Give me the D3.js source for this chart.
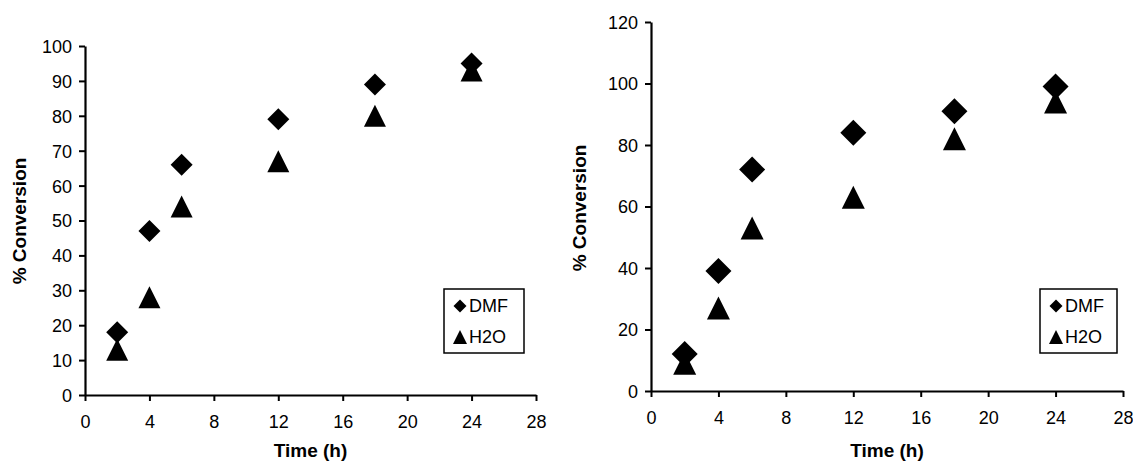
<!DOCTYPE html>
<html lang="en">
<head>
<meta charset="UTF-8">
<title>% Conversion vs time</title>
<script src="https://cdnjs.cloudflare.com/ajax/libs/d3/7.8.5/d3.min.js"></script>
<style>
  body { margin: 0; background: #fff; }
  svg { display: block; font-family: "Liberation Sans", Arial, sans-serif; }
  .tick text { font-size: 18px; fill: #000; }
  .axis-title { font-size: 19px; font-weight: bold; }
</style>
</head>
<body>
<script>
// data
const times = [2, 4, 6, 12, 18, 24];
const dmfLeft = [18, 47, 66, 79, 89, 95];
const h2oLeft = [13, 28, 54, 67, 80, 93];
const dmfRight = [12, 39, 72, 84, 91, 99];
const h2oRight = [9, 27, 53, 63, 82, 94];
const xTicks = [0, 4, 8, 12, 16, 20, 24, 28];
const yTicksLeft = [0, 10, 20, 30, 40, 50, 60, 70, 80, 90, 100];
const yTicksRight = [0, 20, 40, 60, 80, 100, 120];
const seriesNames = ["DMF", "H2O"];

const W = 1133, H = 466;
const svg = d3.select("body").append("svg").attr("width", W).attr("height", H);

// excel-style markers: diamond = square turned 45deg, triangle centred on its box
function diamond(d) {
  return { draw(ctx) { const r = d / 2; ctx.moveTo(0, -r); ctx.lineTo(r, 0); ctx.lineTo(0, r); ctx.lineTo(-r, 0); ctx.closePath(); } };
}
function triangle(w, h) {
  return { draw(ctx) { ctx.moveTo(0, -h / 2); ctx.lineTo(w / 2, h / 2); ctx.lineTo(-w / 2, h / 2); ctx.closePath(); } };
}

function panel(p) {
  const x = d3.scaleLinear().domain([0, 28]).range([p.x0, p.x1]);
  const y = d3.scaleLinear().domain([0, p.yMax]).range([p.y0, p.y1]);
  const g = svg.append("g");

  const xAxis = g.append("g").attr("transform", `translate(0,${p.y0})`)
    .call(d3.axisBottom(x).tickValues(xTicks).tickSize(6).tickPadding(14).tickSizeOuter(0));
  const yAxis = g.append("g").attr("transform", `translate(${p.x0},0)`)
    .call(d3.axisLeft(y).tickValues(p.yTicks).tickSize(6).tickPadding(7).tickSizeOuter(0));
  [xAxis, yAxis].forEach(a => {
    a.selectAll("path, line").attr("stroke", "#000").attr("stroke-width", 2);
    a.select(".domain").attr("stroke-width", 2.2);
  });
  yAxis.selectAll(".tick text").attr("dy", "0.36em");

  g.append("text").attr("class", "axis-title")
    .attr("x", (p.x0 + p.x1) / 2).attr("y", 457).attr("text-anchor", "middle")
    .text("Time (h)");
  g.append("text").attr("class", "axis-title")
    .attr("transform", `translate(${p.yTitleX},${p.yTitleY}) rotate(-90)`)
    .attr("text-anchor", "middle").text("% Conversion");

  const dia = d3.symbol().type(diamond(p.dSize));
  const tri = d3.symbol().type(triangle(p.tSize, p.tSize));

  g.selectAll(".h2o").data(times).join("path").attr("class", "h2o")
    .attr("transform", (t, i) => `translate(${x(t)},${y(p.h2o[i])})`)
    .attr("d", tri).attr("fill", "#000");
  g.selectAll(".dmf").data(times).join("path").attr("class", "dmf")
    .attr("transform", (t, i) => `translate(${x(t)},${y(p.dmf[i])})`)
    .attr("d", dia).attr("fill", "#000");

  // legend
  const lg = g.append("g").attr("transform", `translate(${p.lx},${p.ly})`);
  lg.append("rect").attr("width", p.lw).attr("height", 64)
    .attr("fill", "#fff").attr("stroke", "#000").attr("stroke-width", 1.5);
  const legMarks = [d3.symbol().type(diamond(13))(), d3.symbol().type(triangle(14, 14))()];
  seriesNames.forEach((name, i) => {
    const cy = 17 + i * 31;
    lg.append("path").attr("d", legMarks[i]).attr("transform", `translate(16,${cy})`).attr("fill", "#000");
    lg.append("text").attr("x", 25).attr("y", cy).attr("dy", "0.36em")
      .style("font-size", "18px").text(name);
  });
}

panel({ x0: 85, x1: 536, y0: 395, y1: 46, yMax: 100, yTicks: yTicksLeft,
  dmf: dmfLeft, h2o: h2oLeft, dSize: 22, tSize: 22,
  yTitleX: 26, yTitleY: 221, lx: 444, ly: 289, lw: 80 });
panel({ x0: 651, x1: 1123, y0: 391, y1: 22, yMax: 120, yTicks: yTicksRight,
  dmf: dmfRight, h2o: h2oRight, dSize: 26, tSize: 23,
  yTitleX: 586, yTitleY: 208, lx: 1040, ly: 289, lw: 77 });
</script>
</body>
</html>
